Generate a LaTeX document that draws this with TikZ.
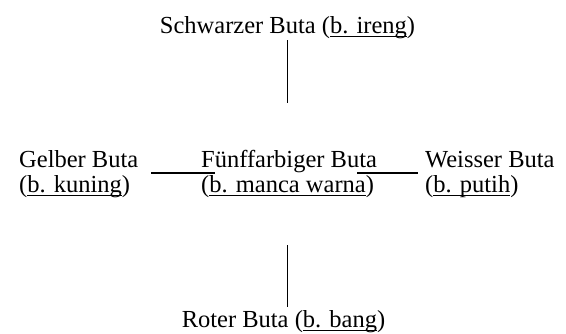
\documentclass[tikz,border=0pt]{standalone}
\usepackage{fontspec}
\setmainfont{Liberation Serif}
\newlength\myulw
\newcommand\myul[1]{\settowidth\myulw{#1}\rlap{\rule[-2.6pt]{\myulw}{1pt}}#1}
\tikzset{
  lbl/.style={inner sep=0pt, font=\fontsize{24.5}{25}\selectfont, text height=17pt, text depth=6pt},
  two/.style={inner sep=0pt, font=\fontsize{24.5}{25}\selectfont},
  conn/.style={line width=1.6pt}
}
\begin{document}
\begin{tikzpicture}[x=1pt,y=1pt]
\path[use as bounding box, fill=white] (0,0) rectangle (566,-334);
\node[lbl, anchor=base] (top) at (287.5,-34) {Schwarzer Buta (\myul{b. ireng})};
\node[two, anchor=base west] (gelb) at (19,-168) {\begin{tabular}[t]{@{}l@{}}Gelber Buta\\(\myul{b. kuning})\end{tabular}};
\node[two, anchor=base west] (mid) at (201,-168) {\begin{tabular}[t]{@{}l@{}}Fünffarbiger Buta\\(\myul{b. manca warna})\end{tabular}};
\node[two, anchor=base west] (weiss) at (425,-168) {\begin{tabular}[t]{@{}l@{}}Weisser Buta\\(\myul{b. putih})\end{tabular}};
\node[lbl, anchor=base] (bot) at (283.5,-328) {Roter Buta (\myul{b. bang})};
\draw[conn, shorten >=47.5pt] (top.south) -- (top.south |- mid.north);
\draw[conn, shorten <=44.5pt, shorten >=4pt] (top.south |- mid.south) -- (top.south |- bot.north);
\draw[conn] ([shift={(13pt,-5pt)}]gelb.base east) -- ([shift={(14pt,-5pt)}]mid.base west);
\draw[conn] ([shift={(-20pt,-5pt)}]mid.base east) -- ([shift={(-7pt,-5pt)}]weiss.base west);
\end{tikzpicture}
\end{document}
